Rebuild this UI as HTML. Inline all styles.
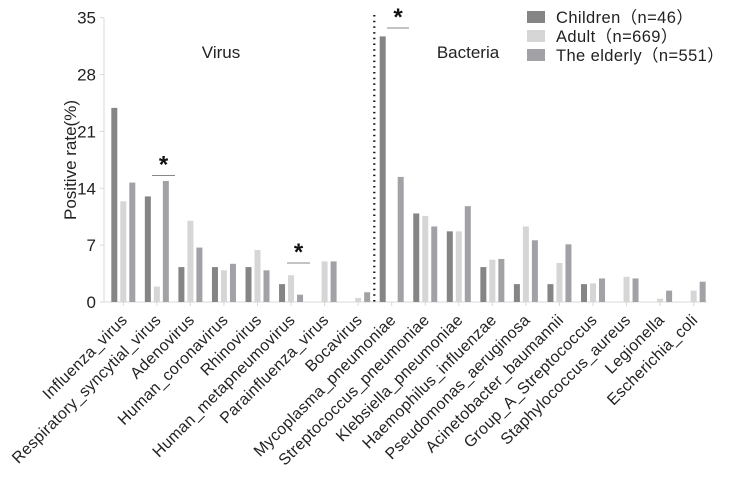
<!DOCTYPE html>
<html><head><meta charset="utf-8"><style>
body{margin:0;background:#fff}
svg{display:block;font-family:"Liberation Sans","Noto Sans CJK SC",sans-serif}
</style></head><body>
<svg id="chart" width="744" height="480" viewBox="0 0 744 480">
<g id="axes"></g><g id="bars"></g><g id="ann"></g>
</svg>
<script>
const categories=["Influenza_virus","Respiratory_syncytial_virus","Adenovirus","Human_coronavirus","Rhinovirus","Human_metapneumovirus","Parainfluenza_virus","Bocavirus","Mycoplasma_pneumoniae","Streptococcus_pneumoniae","Klebsiella_pneumoniae","Haemophilus_influenzae","Pseudomonas_aeruginosa","Acinetobacter_baumannii","Group_A_Streptococcus","Staphylococcus_aureus","Legionella","Escherichia_coli"];
const children=[23.9,13.0,4.3,4.3,4.3,2.2,0,0,32.7,10.9,8.7,4.3,2.2,2.2,2.2,0,0,0];
const adult=[12.4,1.9,10.0,3.9,6.4,3.3,5.0,0.5,0,10.6,8.7,5.2,9.3,4.8,2.3,3.1,0.4,1.4];
const elderly=[14.7,14.9,6.7,4.7,3.9,0.9,5.0,1.2,15.4,9.3,11.8,5.3,7.6,7.1,2.9,2.9,1.4,2.5];
const yTicks=[0,7,14,21,28,35];
const seriesNames=["Children（n=46）","Adult（n=669）","The elderly（n=551）"];
const colors=["#858585","#d6d6d6","#a2a2a6"];
const NS="http://www.w3.org/2000/svg";
const y0=302,yTop=17.7,yMax=35;
function y(v){return y0-(v/yMax)*(y0-yTop);}
function x(i){return 123.3+i*33.55;}
function mk(tag,attrs,parent,txt){const e=document.createElementNS(NS,tag);for(const k in attrs)e.setAttribute(k,attrs[k]);if(txt!==undefined)e.textContent=txt;parent.appendChild(e);return e;}
const axes=document.getElementById('axes'),bars=document.getElementById('bars'),ann=document.getElementById('ann');
let a=mk('line',{x1:104,x2:104,y1:y(35),y2:y0,stroke:'#d8d8d8','stroke-width':1},axes);


a=mk('line',{x1:104,x2:707,y1:y0,y2:y0,stroke:'#d8d8d8','stroke-width':1},axes);


yTicks.forEach(t=>{
 mk('line',{x1:100,x2:104,y1:y(t),y2:y(t),stroke:'#d8d8d8'},axes);
 const l=mk('text',{x:96,y:y(t)+6,'text-anchor':'end','font-size':17,fill:'#222'},axes,t);
 
 
});
let yt=mk('text',{x:0,y:0,transform:'translate(76,160) rotate(-90)','text-anchor':'middle','font-size':17,fill:'#222'},axes,'Positive rate(%)');


categories.forEach((c,i)=>{
 mk('line',{x1:x(i),x2:x(i),y1:y0,y2:y0+4,stroke:'#d8d8d8'},axes);
 const t=mk('text',{x:0,y:0,transform:`translate(${x(i)+5},${y0+19}) rotate(-45)`,'text-anchor':'end','font-size':16,'letter-spacing':0.3,fill:'#222'},axes,c);
 
 
 [children,adult,elderly].forEach((s,k)=>{
  if(s[i]<=0)return;
  const r=mk('rect',{x:x(i)+(k-1)*9-3,y:y(s[i]),width:6,height:y0-y(s[i]),fill:colors[k]},bars);
  
  
 });
});
let d=mk('line',{x1:374.3,x2:374.3,y1:15,y2:y0,stroke:'#111','stroke-width':2.2,'stroke-dasharray':'1.5 4.2'},ann);


let v=mk('text',{x:221,y:58,'text-anchor':'middle','font-size':17,fill:'#222'},ann,'Virus');


v=mk('text',{x:468,y:58,'text-anchor':'middle','font-size':17,fill:'#222'},ann,'Bacteria');


[[152,175,175.5],[287,310,263],[387,409,28]].forEach(b=>{
 mk('line',{x1:b[0],x2:b[1],y1:b[2],y2:b[2],stroke:'#888','stroke-width':1},ann);
 const s=mk('text',{x:(b[0]+b[1])/2,y:b[2]-3,'text-anchor':'middle','font-size':24,'font-weight':'bold',fill:'#111'},ann,'*');
 
 
});
seriesNames.forEach((n,k)=>{
 const g=mk('g',{},ann);
 
 
 const cy=17+k*19;
 mk('rect',{x:527,y:cy-6,width:18,height:12,fill:colors[k]},g);
 mk('text',{x:556,y:cy+6,'font-size':16.5,'letter-spacing':0.4,fill:'#222'},g,n);
});
</script>
</body></html>
